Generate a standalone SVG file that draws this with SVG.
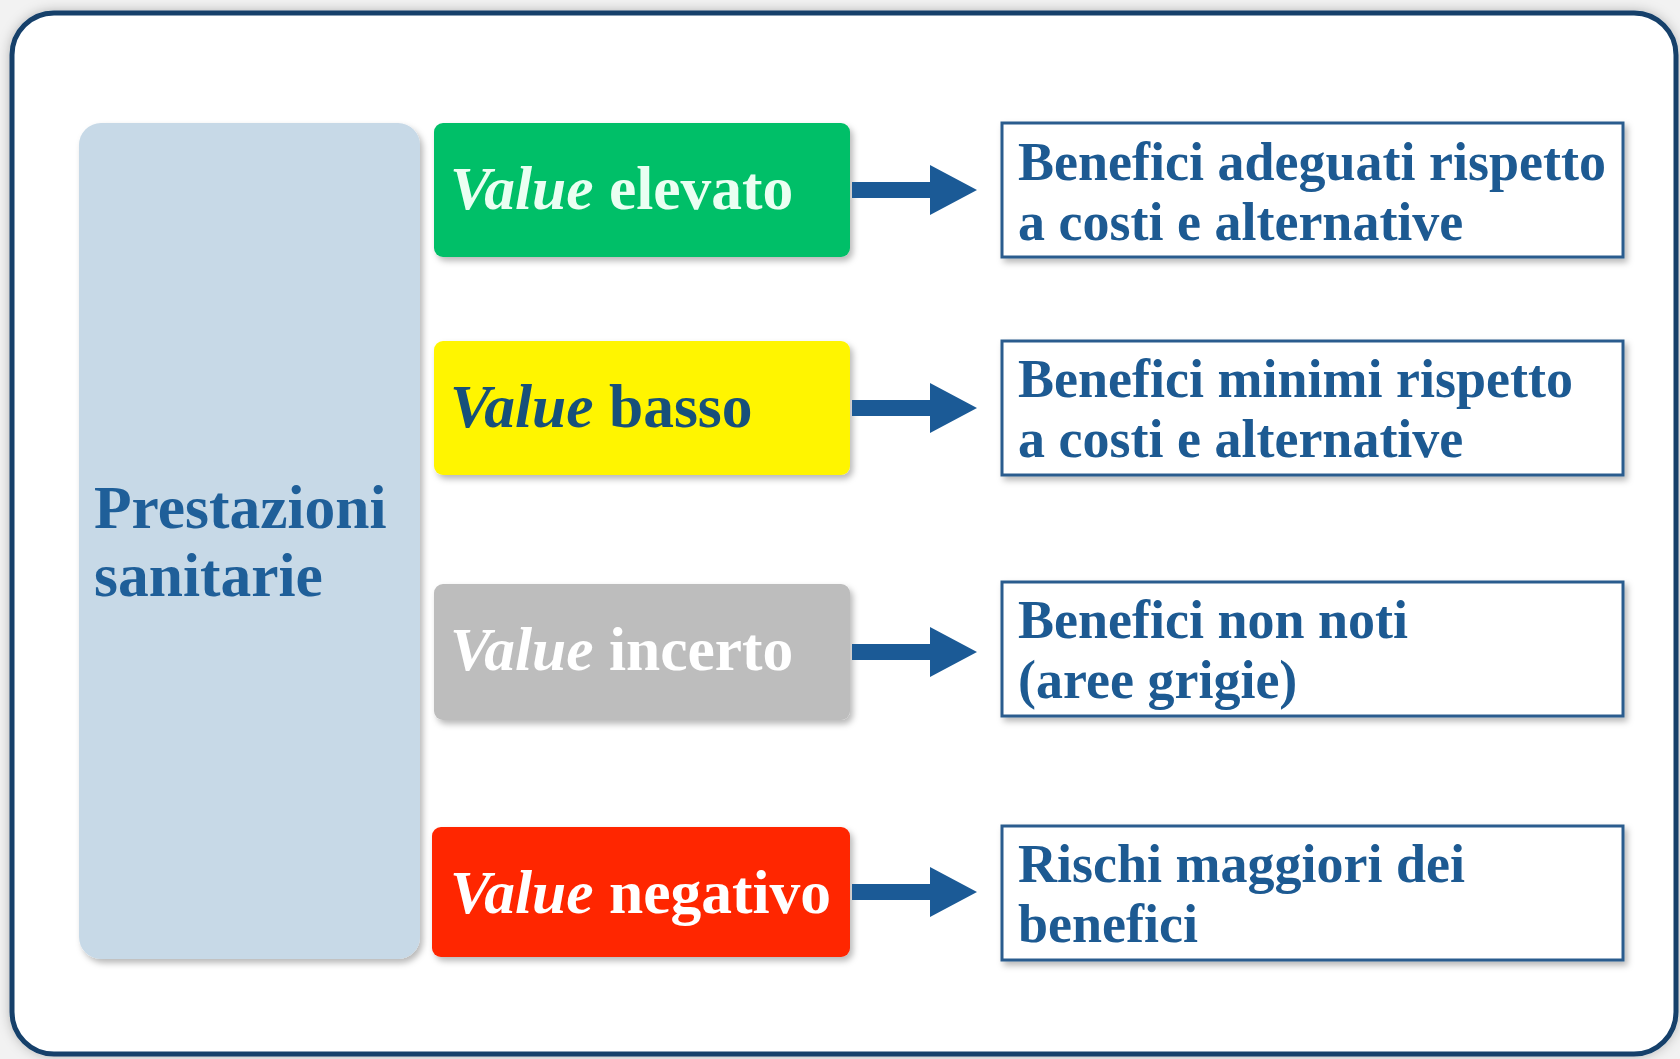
<svg xmlns="http://www.w3.org/2000/svg" width="1680" height="1059" viewBox="0 0 1680 1059">
<defs>
<style>
.vt{font-family:"Liberation Serif","DejaVu Serif",serif;font-weight:bold;font-size:61.5px}
.vi{font-style:italic}
.rt{font-family:"Liberation Serif","DejaVu Serif",serif;font-weight:bold;font-size:54px;fill:#1d5a92}
.rbox{fill:#ffffff;stroke:#2a5c8e;stroke-width:3}
.arrow{fill:#1b5a96}
</style>
<filter id="sh" x="-10%" y="-10%" width="130%" height="130%">
<feDropShadow dx="3" dy="4" stdDeviation="3" flood-color="#000" flood-opacity="0.28"/>
</filter>
<filter id="fsh" x="-5%" y="-5%" width="110%" height="110%">
<feDropShadow dx="0" dy="0" stdDeviation="6" flood-color="#000" flood-opacity="0.25"/>
</filter>
</defs>
<rect x="0" y="0" width="1680" height="1059" fill="#f2f2f2"/>
<g id="frame">
<rect x="12" y="13" width="1664" height="1041" rx="42" ry="42" fill="#ffffff" stroke="#123f6b" stroke-width="5" filter="url(#fsh)"/>
</g>
<g id="prestazioni">
<rect x="79" y="123" width="341" height="836" rx="22" ry="22" fill="#c7d9e7" filter="url(#sh)"/>
<text class="vt" x="94" y="528" fill="#1f5f99" font-size="63.5">Prestazioni</text>
<text class="vt" x="94" y="596" fill="#1f5f99" font-size="63.5">sanitarie</text>
</g>
<g id="value-elevato">
<rect x="434" y="123" width="416" height="134" rx="9" ry="9" fill="#06bf68" filter="url(#sh)"/>
<text class="vt" x="450" y="209" fill="#eafff2"><tspan class="vi">Value</tspan> elevato</text>
</g>
<g id="value-basso">
<rect x="434" y="341" width="416" height="134" rx="9" ry="9" fill="#fff500" filter="url(#sh)"/>
<text class="vt" x="450" y="427" fill="#17507a"><tspan class="vi">Value</tspan> basso</text>
</g>
<g id="value-incerto">
<rect x="434" y="584" width="416" height="136" rx="9" ry="9" fill="#bdbdbd" filter="url(#sh)"/>
<text class="vt" x="450" y="670" fill="#ffffff"><tspan class="vi">Value</tspan> incerto</text>
</g>
<g id="value-negativo">
<rect x="432" y="827" width="418" height="130" rx="9" ry="9" fill="#ff2500" filter="url(#sh)"/>
<text class="vt" x="450" y="913" fill="#ffffff"><tspan class="vi">Value</tspan> negativo</text>
</g>
<g id="connectors">
<path class="arrow" d="M852,182 H930 V165 L977,190 L930,215 V198 H852 Z"/>
<path class="arrow" d="M852,400 H930 V383 L977,408 L930,433 V416 H852 Z"/>
<path class="arrow" d="M852,644 H930 V627 L977,652 L930,677 V660 H852 Z"/>
<path class="arrow" d="M852,884 H930 V867 L977,892 L930,917 V900 H852 Z"/>
</g>
<g id="desc-elevato">
<rect class="rbox" x="1002" y="123" width="621" height="134" filter="url(#sh)"/>
<text class="rt" x="1018" y="180">Benefici adeguati rispetto</text>
<text class="rt" x="1018" y="240">a costi e alternative</text>
</g>
<g id="desc-basso">
<rect class="rbox" x="1002" y="341" width="621" height="134" filter="url(#sh)"/>
<text class="rt" x="1018" y="397">Benefici minimi rispetto</text>
<text class="rt" x="1018" y="457">a costi e alternative</text>
</g>
<g id="desc-incerto">
<rect class="rbox" x="1002" y="582" width="621" height="134" filter="url(#sh)"/>
<text class="rt" x="1018" y="638">Benefici non noti</text>
<text class="rt" x="1018" y="698">(aree grigie)</text>
</g>
<g id="desc-negativo">
<rect class="rbox" x="1002" y="826" width="621" height="134" filter="url(#sh)"/>
<text class="rt" x="1018" y="882">Rischi maggiori dei</text>
<text class="rt" x="1018" y="942">benefici</text>
</g>
</svg>
